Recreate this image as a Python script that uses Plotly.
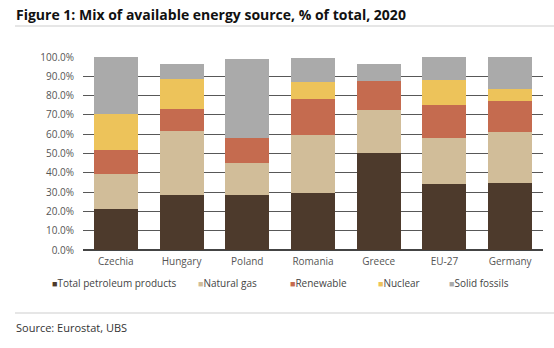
import plotly.graph_objects as go

# Share of available energy by source, 2020 (fraction of total)
countries = ["Czechia", "Hungary", "Poland", "Romania", "Greece", "EU-27", "Germany"]
petroleum = [0.211, 0.285, 0.285, 0.294, 0.504, 0.340, 0.349]
natural_gas = [0.181, 0.332, 0.167, 0.302, 0.221, 0.239, 0.261]
renewable = [0.126, 0.112, 0.128, 0.186, 0.152, 0.172, 0.162]
nuclear = [0.187, 0.157, 0.000, 0.090, 0.000, 0.130, 0.062]
solid_fossils = [0.295, 0.078, 0.408, 0.124, 0.087, 0.119, 0.166]

series_names = ["Total petroleum products", "Natural gas", "Renewable", "Nuclear", "Solid fossils"]
series_values = [petroleum, natural_gas, renewable, nuclear, solid_fossils]
series_colors = ["#4d3a2c", "#d1bd99", "#c56b4f", "#edc35a", "#aaaaaa"]

W, H = 554, 348
L, R, T, B = 83, 11, 57, 98
PW, PH = W - L - R, H - T - B


def px_x(x):
    return (x - L) / PW


def px_y(y):
    return (H - B - y) / PH


fig = go.Figure()
for name, vals, col in zip(series_names, series_values, series_colors):
    fig.add_trace(go.Bar(x=countries, y=vals, name=name, marker_color=col,
                         marker_line_width=0, showlegend=False))

font = "Open Sans, Noto Sans, sans-serif"

# Legend row: colored square glyph followed by the series name
legend_x = [50, 196, 288, 376, 447]
for xpos, name, col in zip(legend_x, series_names, series_colors):
    fig.add_annotation(
        x=px_x(xpos), y=px_y(283), xref="paper", yref="paper",
        xanchor="left", yanchor="middle", showarrow=False,
        text=f"<span style='color:{col};font-size:9px'>■</span>{name}",
        font=dict(family=font, size=10, color="#444444"),
    )

# Title and source line
fig.add_annotation(
    x=px_x(14), y=px_y(14), xref="paper", yref="paper",
    xanchor="left", yanchor="middle", showarrow=False,
    text="<b>Figure 1: Mix of available energy source, % of total, 2020</b>",
    font=dict(family=font, size=14, color="#111111"),
)
fig.add_annotation(
    x=px_x(14), y=px_y(327), xref="paper", yref="paper",
    xanchor="left", yanchor="middle", showarrow=False,
    text="Source: Eurostat, UBS",
    font=dict(family=font, size=11, color="#333333"),
)
fig.add_shape(type="line", xref="paper", yref="paper",
              x0=px_x(15), x1=px_x(554), y0=px_y(26), y1=px_y(26),
              line=dict(color="#e6e6e6", width=2))
fig.add_shape(type="line", xref="paper", yref="paper",
              x0=px_x(15), x1=px_x(554), y0=px_y(313), y1=px_y(313),
              line=dict(color="#e6e6e6", width=2))

fig.update_layout(
    width=W, height=H,
    margin=dict(l=L, r=R, t=T, b=B),
    barmode="stack", bargap=0.33,
    plot_bgcolor="white", paper_bgcolor="white",
    font=dict(family=font, size=10, color="#555555"),
    showlegend=False,
)
fig.update_yaxes(range=[0, 1], dtick=0.1, tickformat=".1%",
                 showgrid=True, gridcolor="#585858", gridwidth=1,
                 zeroline=True, zerolinecolor="#444444", zerolinewidth=1.5,
                 ticklabelstandoff=8, showline=False)
fig.update_xaxes(showgrid=False, showline=False, ticks="", ticklabelstandoff=4)

fig.write_html("out.html")
